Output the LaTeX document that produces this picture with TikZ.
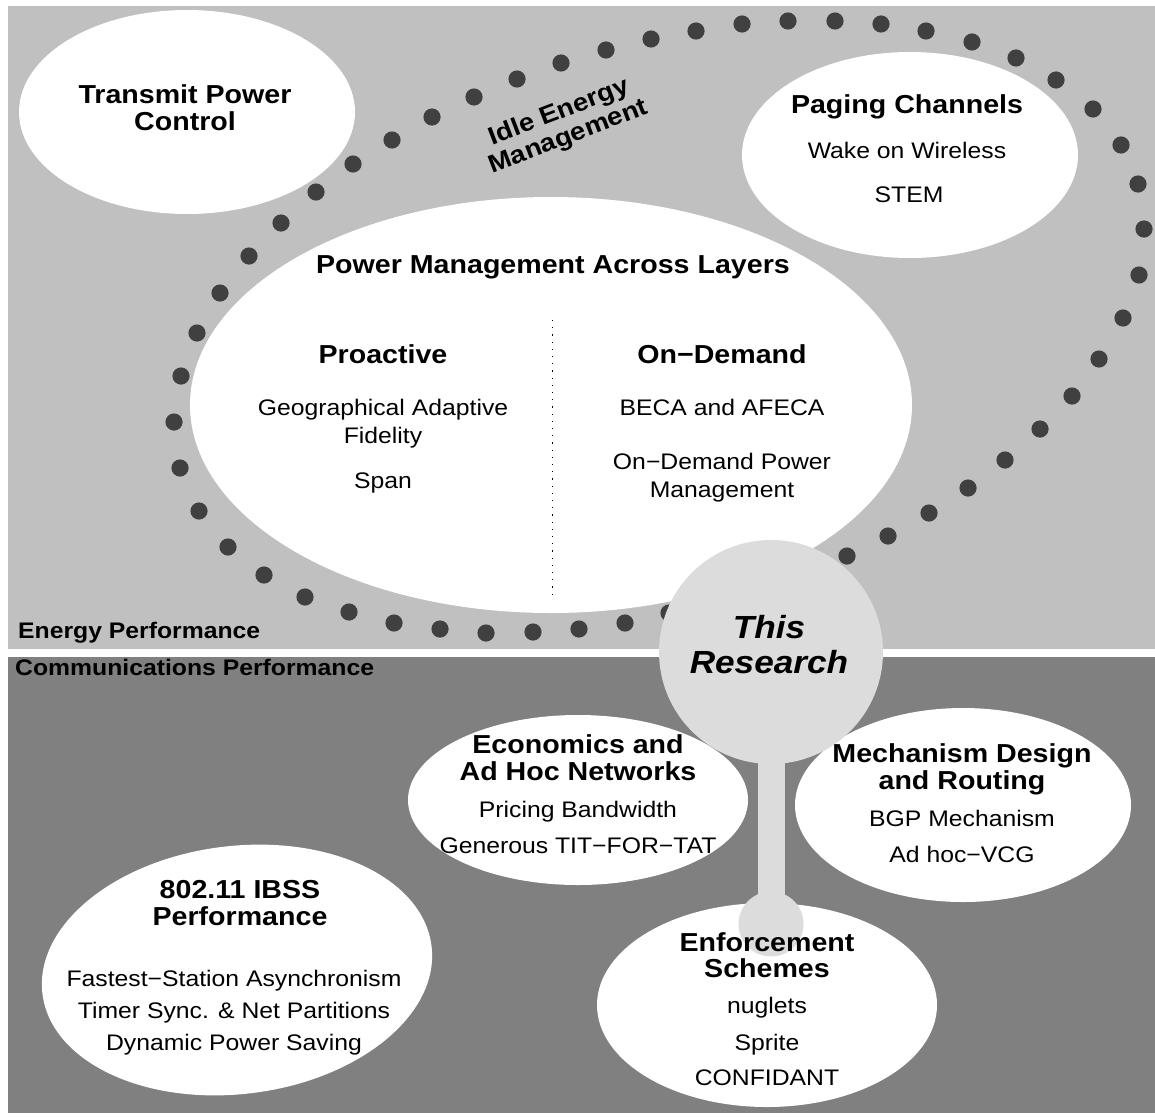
\documentclass[tikz,border=0pt]{standalone}
\usepackage{fontspec}
\setmainfont{Liberation Sans}[FakeStretch=1.1]
\definecolor{panelA}{HTML}{C0C0C0}
\definecolor{panelB}{HTML}{808080}
\definecolor{hub}{HTML}{DCDCDC}
\definecolor{dotc}{HTML}{404040}
\begin{document}
\begin{tikzpicture}[x=1pt,y=-1pt,
  ttxt/.style={font=\fontsize{26}{28}\selectfont\bfseries, anchor=base, inner sep=0pt},
  btxt/.style={font=\fontsize{22.5}{26}\selectfont, anchor=base, inner sep=0pt},
  lbl/.style={font=\fontsize{22.5}{26}\selectfont\bfseries, anchor=base west, inner sep=0pt},
  hubtxt/.style={font=\fontsize{32}{34}\selectfont\bfseries\itshape, anchor=base, inner sep=0pt},
  bubble/.style={fill=white},
  bead/.style={fill=dotc}]
\useasboundingbox (0,0) rectangle (1155,1116);

% two performance panels
\fill[panelA] (8,6) rectangle (1155,649);
\fill[panelB] (8,657) rectangle (1155,1113);

% dotted loop of idle energy management
\foreach \p in {(181,376),(197,333),(220,293),(249,256),(281,223),(316,192),(353,164),(392,140),
  (432,117),(474,97),(517,79),(561,63),(606,50),(651,39),(696,31),(742,24),(788,21),(835,21),
  (881,24),(926,31),(972,42),(1016,58),(1056,80),(1093,109),(1121,145),(1138,184),(1144,229),
  (1139,275),(1123,318),(1099,359),(1072,396),(1040,429),(1005,460),(968,488),(929,513),
  (888,536),(847,556),(805,574),(760,590),(715,603),(669,613),(625,623),(579,629),(533,632),
  (486,633),(440,629),(394,623),(349,612),(305,597),(264,575),(228,547),(199,511),(180,468),(174,422)}
  \fill[bead] \p circle[radius=8.6pt];

% white topic bubbles
\fill[bubble] (187,112) ellipse[x radius=168pt, y radius=102pt];
\fill[bubble] (910,155) ellipse[x radius=168pt, y radius=103pt];
\fill[bubble] (551,405) ellipse[x radius=361pt, y radius=208pt];
\fill[bubble] (578,800) ellipse[x radius=170pt, y radius=85pt];
\fill[bubble] (963,805) ellipse[x radius=168pt, y radius=97pt];
\fill[bubble] (767,1005) ellipse[x radius=170pt, y radius=102pt];
\fill[bubble, rotate around={7:(237,970)}] (237,970) ellipse[x radius=196pt, y radius=124pt];

% divider inside the cross-layer bubble
\coordinate (divtop) at (552,320);
\coordinate (divbot) at (552,600);
\draw[line width=1pt, dash pattern=on 1.2pt off 6pt] (divtop) -- (divbot);

% central hub with its stem
\fill[hub] (758,700) rectangle (785,924);
\fill[hub] (771,924) circle[radius=32.5pt];
\fill[hub] (771,652) circle[radius=112pt];

% texts
\node[ttxt] (tpc1) at (185,103) {Transmit Power};
\node[ttxt] (tpc2) at (185,130) {Control};

\node[font=\fontsize{25}{26}\selectfont\bfseries, align=center, rotate=21, inner sep=0pt] (idle) at (564,125) {Idle Energy\\Management};

\node[ttxt] (pg1) at (907,113) {Paging Channels};
\node[btxt] (pg2) at (907,158) {Wake on Wireless};
\node[btxt] (pg3) at (909,202) {STEM};

\node[ttxt] (pm) at (553,273) {Power Management Across Layers};
\node[ttxt] (pro) at (383,363) {Proactive};
\node[btxt] (pro1) at (383,415) {Geographical Adaptive};
\node[btxt] (pro2) at (383,443) {Fidelity};
\node[btxt] (pro3) at (383,488) {Span};
\node[ttxt] (od) at (722,363) {On−Demand};
\node[btxt] (od1) at (722,415) {BECA and AFECA};
\node[btxt] (od2) at (722,469) {On−Demand Power};
\node[btxt] (od3) at (722,497) {Management};

\node[lbl] (ep) at (18,638) {Energy Performance};
\node[lbl] (cp) at (15,675) {Communications Performance};

\node[hubtxt] (tr1) at (769,638) {This};
\node[hubtxt] (tr2) at (769,673) {Research};

\node[ttxt] (ec1) at (578,753) {Economics and};
\node[ttxt] (ec2) at (578,780) {Ad Hoc Networks};
\node[btxt] (ec3) at (578,817) {Pricing Bandwidth};
\node[btxt] (ec4) at (578,853) {Generous TIT−FOR−TAT};

\node[ttxt] (md1) at (962,762) {Mechanism Design};
\node[ttxt] (md2) at (962,789) {and Routing};
\node[btxt] (md3) at (962,826) {BGP Mechanism};
\node[btxt] (md4) at (962,862) {Ad hoc−VCG};

\node[ttxt] (en1) at (767,951) {Enforcement};
\node[ttxt] (en2) at (767,977) {Schemes};
\node[btxt] (en3) at (767,1013) {nuglets};
\node[btxt] (en4) at (767,1050) {Sprite};
\node[btxt] (en5) at (767,1085) {CONFIDANT};

\node[ttxt] (ib1) at (240,898) {802.11 IBSS};
\node[ttxt] (ib2) at (240,925) {Performance};
\node[btxt] (ib3) at (234,986) {Fastest−Station Asynchronism};
\node[btxt] (ib4) at (234,1018) {Timer Sync. \& Net Partitions};
\node[btxt] (ib5) at (234,1050) {Dynamic Power Saving};
\end{tikzpicture}
\end{document}
